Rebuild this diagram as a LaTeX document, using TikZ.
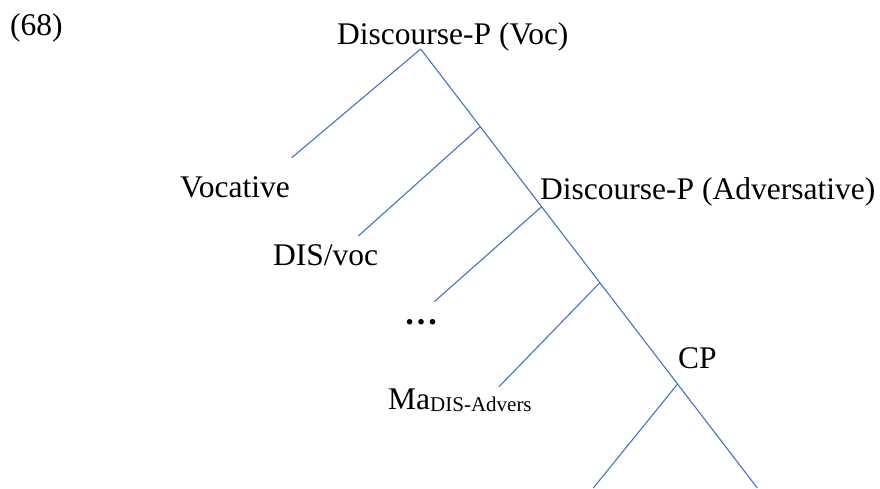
\documentclass[tikz,border=0pt]{standalone}
\usepackage{fontspec}
\setmainfont{Liberation Serif}
\usetikzlibrary{calc}
\definecolor{lineblue}{HTML}{4472C4}
\begin{document}
\begin{tikzpicture}[x=1pt,y=-1pt,
  br/.style={draw=lineblue, line width=1.1pt},
  lbl/.style={inner sep=0pt, anchor=base west, font=\fontsize{31.5}{36}\selectfont}]
\useasboundingbox (0,0) rectangle (880,488);
% spine
\coordinate (top) at (420.7,49);
\coordinate (bot) at (757.3,488);
\coordinate (j1)  at ($(top)!0.177!(bot)$);
\coordinate (jadv) at ($(top)!0.3592!(bot)$);
\coordinate (j3)  at ($(top)!0.5323!(bot)$);
\coordinate (jcp) at ($(top)!0.7631!(bot)$);
% branch ends
\coordinate (evoc) at (291.7,157.7);
\coordinate (edis) at (358.3,236);
\coordinate (edots) at (434.3,301.7);
\coordinate (ema) at (499,386.7);
\coordinate (ecp) at (593.3,488);
% labels
\node[lbl] (n68) at (10,35) {(68)};
\node[lbl] (dvoc) at (337,44) {Discourse-P (Voc)};
\node[lbl] (voc) at (180,197.7) {Vocative};
\node[lbl] (dadv) at (540,199) {Discourse-P (Adversative)};
\node[lbl] (disvoc) at (273,265) {DIS/voc};
\node[lbl] (dots) at (404,324.5) {\fontsize{34}{36}\selectfont\bfseries …};
\node[lbl] (ma) at (388,409.3) {Ma{\fontsize{21}{24}\selectfont\raisebox{-2.5pt}{DIS-Advers}}};
\node[lbl] (cp) at (678,368.3) {CP};
% lines
\draw[br] (top) -- (bot);
\draw[br] (top) -- (evoc);
\draw[br] (j1) -- (edis);
\draw[br] (jadv) -- (edots);
\draw[br] (j3) -- (ema);
\draw[br] (jcp) -- (ecp);
\end{tikzpicture}
\end{document}
